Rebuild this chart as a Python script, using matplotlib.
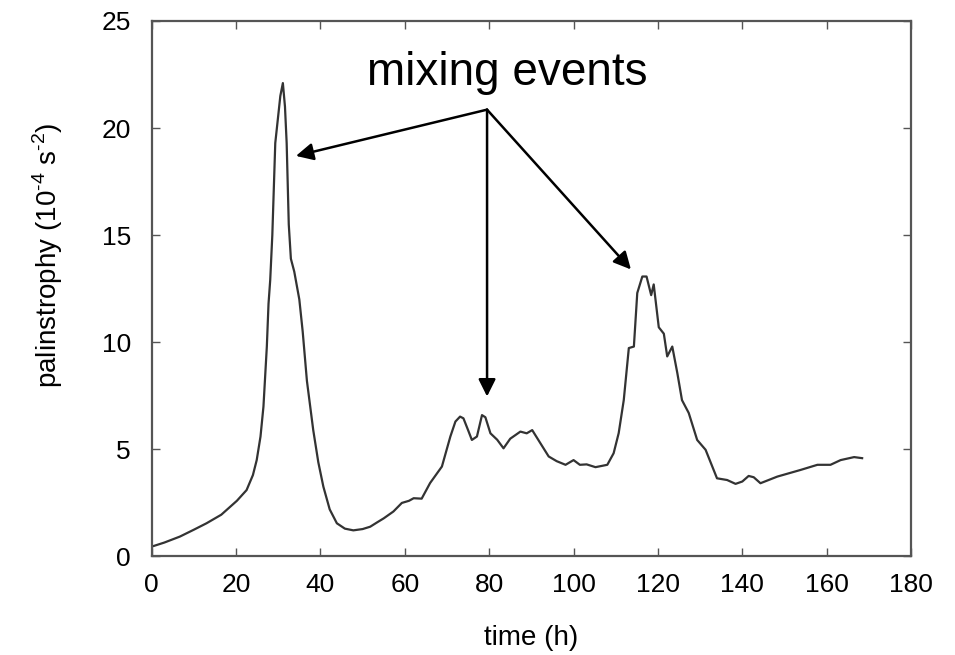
import matplotlib as mpl

mpl.use("agg")
mpl.rcParams.update({
    "font.family": ["Liberation Sans", "DejaVu Sans"],
    "mathtext.fontset": "custom",
    "mathtext.rm": "Liberation Sans",
})
import matplotlib.pyplot as plt

# palinstrophy time series
time_h = [
    0, 3, 6.7, 10, 13, 16.5, 20.2, 22.5, 24, 24.9, 25.8, 26.5, 27.3, 27.7, 28.1,
    28.6, 29.3, 30.5, 31.1, 31.6, 32.0, 32.5, 33.0, 33.8, 35.0, 35.8, 36.8, 38.3,
    39.5, 40.7, 42.2, 43.9, 45.8, 47.8, 50, 51.8, 53.5, 55, 57.3, 59.3, 61, 62.1,
    64, 66, 68.8, 70.8, 72.0, 73.1, 73.9, 75.0, 75.9, 77.1, 78.3, 79.1, 80.3,
    81.9, 83.4, 85, 87.4, 88.9, 90.2, 92.1, 94.1, 96, 98.1, 100, 101.5, 103.1,
    105.2, 108, 109.5, 110.7, 111.9, 113.1, 114.3, 115.1, 116.3, 117.3, 118.4,
    119, 120.2, 121.4, 122.2, 123.4, 124.6, 125.7, 127.3, 129.3, 131.3, 134,
    136.4, 138.4, 140, 141.5, 142.7, 144.3, 148.3, 153.8, 157.8, 160.9, 163.3,
    166.5, 168.4,
]
palinstrophy = [
    0.46, 0.65, 0.93, 1.25, 1.55, 1.95, 2.6, 3.1, 3.8, 4.5, 5.6, 7.0, 9.8, 11.8,
    12.9, 15.0, 19.3, 21.5, 22.1, 21.0, 19.3, 15.5, 13.9, 13.3, 12.0, 10.5, 8.2,
    5.9, 4.4, 3.26, 2.2, 1.55, 1.3, 1.22, 1.28, 1.39, 1.6, 1.78, 2.1, 2.5, 2.6,
    2.72, 2.7, 3.43, 4.2, 5.6, 6.3, 6.53, 6.45, 5.9, 5.44, 5.6, 6.6, 6.5, 5.75,
    5.45, 5.05, 5.5, 5.83, 5.75, 5.9, 5.3, 4.67, 4.45, 4.28, 4.5, 4.28, 4.3,
    4.17, 4.28, 4.82, 5.76, 7.3, 9.73, 9.8, 12.3, 13.07, 13.07, 12.2, 12.7,
    10.7, 10.4, 9.34, 9.8, 8.56, 7.3, 6.7, 5.44, 4.98, 3.65, 3.57, 3.39, 3.5,
    3.76, 3.7, 3.42, 3.73, 4.04, 4.28, 4.28, 4.5, 4.64, 4.59,
]
x_ticks = [0, 20, 40, 60, 80, 100, 120, 140, 160, 180]
y_ticks = [0, 5, 10, 15, 20, 25]

fig = plt.figure(figsize=(9.55, 6.55), dpi=100)
ax = fig.add_axes([0.1588, 0.1504, 0.7952, 0.8176])
ax.plot(time_h, palinstrophy, color="#333333", lw=1.6)

ax.set_xlim(0, 180)
ax.set_ylim(0, 25)
ax.set_xticks(x_ticks)
ax.set_yticks(y_ticks)
ax.tick_params(direction="in", top=True, right=True, length=6, width=1.0,
               color="#555555", labelsize=19)
ax.tick_params(axis="x", pad=12)
ax.tick_params(axis="y", pad=15)
for s in ax.spines.values():
    s.set_linewidth(1.6)
    s.set_color("#555555")

fig.text(531 / 955, 1 - 638 / 655, "time (h)", ha="center", va="center", fontsize=20)
fig.text(48 / 955, 1 - 255 / 655, r"palinstrophy (10$^{\text{-4}}$ s$^{\text{-2}}$)",
         ha="center", va="center", rotation=90, fontsize=20)

# "mixing events" annotation
ax.text(84.3, 22.03, "mixing events", ha="center", va="baseline", fontsize=33)
vertex = (79.5, 20.86)
for tip in [(34.2, 18.7), (79.5, 7.47), (113.6, 13.4)]:
    ax.annotate("", xy=tip, xytext=vertex,
                arrowprops=dict(arrowstyle="-|>", mutation_scale=26, lw=1.8,
                                color="black", shrinkA=0, shrinkB=0))

fig.savefig("out.png", dpi=100)
